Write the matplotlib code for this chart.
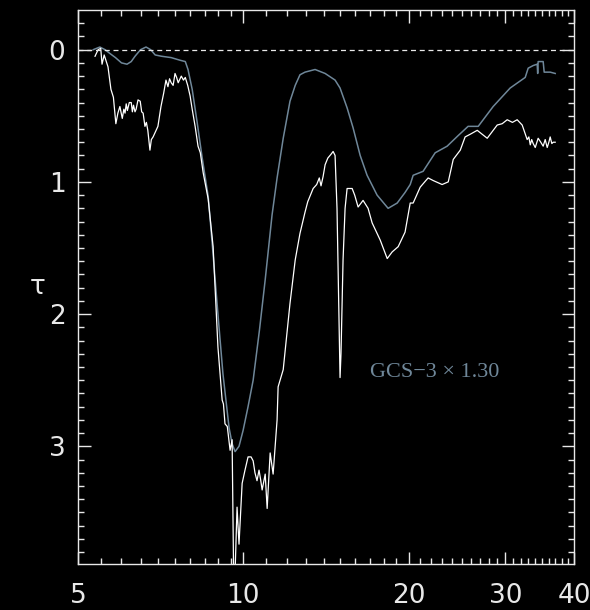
import numpy as np
import matplotlib
matplotlib.use("Agg")
import matplotlib.pyplot as plt
from matplotlib.ticker import FixedLocator, NullFormatter

# observed spectrum (white)
obs_wave = [5.37, 5.44, 5.50, 5.53, 5.58, 5.62, 5.67, 5.74, 5.80, 5.86, 5.91, 5.96, 6.02,
            6.06, 6.09, 6.12, 6.15, 6.20, 6.25, 6.28, 6.31, 6.35, 6.38, 6.43, 6.49, 6.53,
            6.57, 6.62, 6.66, 6.70, 6.76, 6.80, 6.85, 6.92, 6.99, 7.08, 7.16, 7.23, 7.29,
            7.34, 7.39, 7.45, 7.51, 7.56, 7.61, 7.67, 7.71, 7.78, 7.84, 7.92, 8.00, 8.07,
            8.17, 8.27, 8.35, 8.45, 8.63, 8.81, 8.99, 9.15, 9.20,
            9.26, 9.35, 9.46, 9.54, 9.60, 9.66, 9.74, 9.82, 9.95, 10.07, 10.20, 10.33, 10.42,
            10.50, 10.59, 10.68, 10.75, 10.82, 10.96, 11.05, 11.19, 11.33, 11.52, 11.57,
            11.82, 12.16, 12.43, 12.68, 12.95, 13.10, 13.40, 13.60, 13.75, 13.85, 13.97,
            14.09, 14.25, 14.45, 14.57, 14.69, 14.81, 14.94,
            15.00, 15.06, 15.19, 15.32, 15.45, 15.78, 15.95, 16.18, 16.52, 16.87, 17.16, 17.75,
            18.28, 18.66, 19.14, 19.70, 20.13, 20.38, 20.99, 21.70, 22.17, 23.01, 23.61,
            24.11, 24.83, 25.34, 25.88, 26.66, 27.80, 28.99, 29.60, 30.23, 30.90, 31.52,
            32.19, 32.50, 32.87, 33.10, 33.30, 33.50, 33.71, 34.00, 34.42, 34.80, 35.15,
            35.45, 35.75, 36.00, 36.20, 36.45, 36.66, 36.97]
obs_tau = [0.05, 0.00, -0.01, 0.11, 0.04, 0.08, 0.13, 0.30, 0.36, 0.56, 0.48, 0.43, 0.52,
           0.45, 0.48, 0.41, 0.46, 0.40, 0.40, 0.47, 0.42, 0.47, 0.45, 0.38, 0.39, 0.47,
           0.48, 0.58, 0.55, 0.61, 0.76, 0.68, 0.66, 0.62, 0.58, 0.43, 0.33, 0.23, 0.28,
           0.22, 0.25, 0.27, 0.18, 0.21, 0.25, 0.22, 0.20, 0.23, 0.21, 0.27, 0.35, 0.45,
           0.58, 0.73, 0.78, 0.93, 1.13, 1.49, 2.25, 2.65, 2.68,
           2.83, 2.85, 3.03, 2.95, 3.95, 3.95, 3.46, 3.74, 3.28, 3.18, 3.08, 3.08, 3.11,
           3.20, 3.26, 3.18, 3.25, 3.33, 3.21, 3.47, 3.05, 3.21, 2.80, 2.55,
           2.42, 1.92, 1.59, 1.39, 1.23, 1.15, 1.05, 1.02, 0.97, 1.03, 0.96,
           0.87, 0.82, 0.79, 0.77, 0.80, 1.20, 2.10,
           2.48, 2.30, 1.59, 1.20, 1.05, 1.05, 1.10, 1.19, 1.14, 1.20, 1.31, 1.44,
           1.58, 1.53, 1.49, 1.38, 1.16, 1.16, 1.04, 0.97, 0.99, 1.02, 1.00,
           0.83, 0.76, 0.66, 0.64, 0.61, 0.67, 0.57, 0.56, 0.53, 0.55, 0.53,
           0.57, 0.62, 0.68, 0.66, 0.72, 0.68, 0.71, 0.74, 0.67, 0.70, 0.73,
           0.68, 0.74, 0.70, 0.66, 0.71, 0.70, 0.70]

# GCS-3 template scaled by 1.30 (grey)
gcs_wave = [5.33, 5.48, 5.60, 5.72, 5.85, 6.00, 6.14, 6.25, 6.35, 6.50, 6.65, 6.78, 6.91,
            7.10, 7.39, 7.67, 7.84, 7.93, 8.07, 8.24, 8.41, 8.63, 8.81, 8.99, 9.18, 9.42,
            9.54, 9.66, 9.82, 9.99, 10.20, 10.42, 10.70, 10.96, 11.28, 11.52, 11.82, 12.16,
            12.43, 12.68, 12.95, 13.51, 14.09, 14.69, 15.00, 15.45, 15.84, 16.32, 16.80,
            17.52, 18.35, 19.06, 19.70, 20.13, 20.38, 21.25, 22.35, 23.50, 24.61, 25.66,
            26.77, 28.50, 30.61, 32.60, 33.01, 33.71, 34.28, 34.35, 34.42, 35.15, 35.30,
            36.20, 36.97]
gcs_tau = [0.00, -0.02, 0.00, 0.03, 0.06, 0.10, 0.11, 0.09, 0.05, 0.00, -0.02, 0.00, 0.04,
           0.05, 0.06, 0.08, 0.09, 0.15, 0.30, 0.55, 0.81, 1.11, 1.55, 2.00, 2.45, 2.86,
           2.98, 3.04, 3.00, 2.88, 2.70, 2.50, 2.12, 1.74, 1.25, 0.97, 0.67, 0.39,
           0.27, 0.19, 0.17, 0.15, 0.18, 0.23, 0.29, 0.44, 0.59, 0.80, 0.95,
           1.10, 1.20, 1.16, 1.08, 1.02, 0.95, 0.92, 0.78, 0.73, 0.65, 0.58,
           0.58, 0.43, 0.29, 0.21, 0.14, 0.12, 0.11, 0.18, 0.09, 0.09, 0.17,
           0.17, 0.18]

x_major = [5, 10, 20, 30, 40]
x_minor = list(np.arange(5.5, 10, 0.5)) + list(range(11, 20)) + list(range(21, 30)) + list(range(31, 40))
y_major = [0, 1, 2, 3]

grey = "#6f8799"
fg = "#e8e8e8"

fig = plt.figure(figsize=(5.9, 6.1), dpi=100, facecolor="black")
ax = fig.add_axes([78/590, 46/610, 496/590, 554/610], facecolor="black")

ax.plot(gcs_wave, gcs_tau, color=grey, lw=1.1)
ax.plot(obs_wave, obs_tau, color="white", lw=0.9)
ax.axhline(0, color=fg, lw=0.9, ls=(0, (4, 3)))

ax.set_xscale("log")
ax.set_xlim(5, 40)
ax.set_ylim(3.89, -0.30)

ax.xaxis.set_major_locator(FixedLocator(x_major))
ax.xaxis.set_minor_locator(FixedLocator(x_minor))
ax.set_xticklabels([str(v) for v in x_major])
ax.xaxis.set_minor_formatter(NullFormatter())
ax.yaxis.set_major_locator(FixedLocator(y_major))
ax.yaxis.set_minor_locator(FixedLocator(np.arange(-0.2, 3.9, 0.1)))
ax.set_yticklabels([str(v) for v in y_major])

ax.tick_params(which="both", direction="in", top=True, right=True, color=fg,
               width=1.0, labelcolor=fg, labelsize=19)
ax.tick_params(which="major", length=9, pad=9)
ax.tick_params(axis="x", which="major", pad=14)
ax.tick_params(which="minor", length=4.5)
for s in ax.spines.values():
    s.set_color(fg)
    s.set_linewidth(1.0)

ax.set_ylabel("τ", color=fg, fontsize=19, rotation=0, labelpad=8, va="center")

ax.text(17.0, 2.44, "GCS\u22123 \u00d7 1.30", color=grey, fontsize=16,
        family="Liberation Serif", va="center")

fig.savefig("out.png", dpi=100, facecolor="black")
